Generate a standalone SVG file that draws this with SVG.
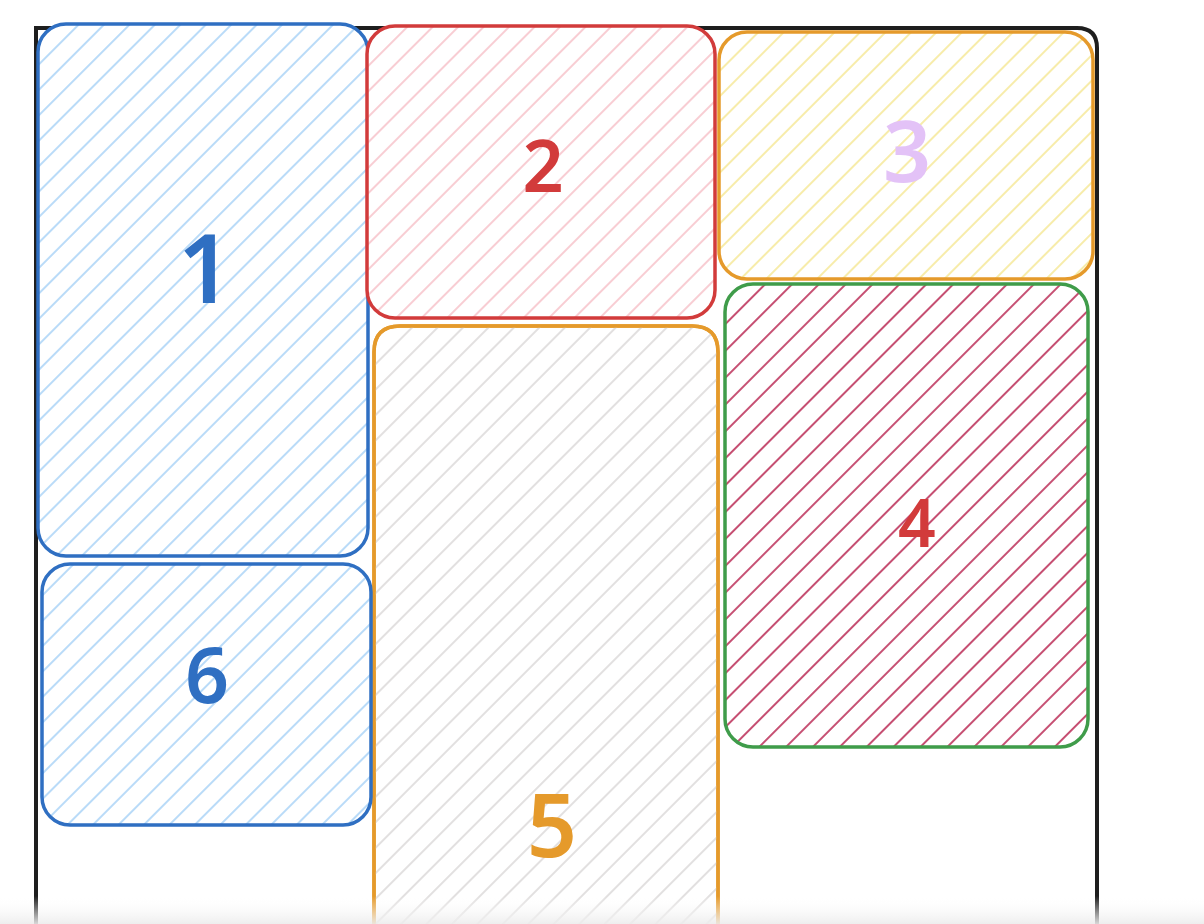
<svg xmlns="http://www.w3.org/2000/svg" width="1204" height="924" viewBox="0 0 1204 924">
<style>
.box{stroke-width:3.5;}
.lbl{font-family:"Noto Sans","Open Sans","Liberation Sans",sans-serif;font-weight:600;text-anchor:middle;}
</style>
<defs>
<pattern id="hBlue" patternUnits="userSpaceOnUse" width="18" height="18" patternTransform="rotate(45)"><line x1="1" y1="0" x2="1" y2="18" stroke="#a8d2f6" stroke-width="1.6"/></pattern>
<pattern id="hPink" patternUnits="userSpaceOnUse" width="18" height="18" patternTransform="rotate(45)"><line x1="1" y1="0" x2="1" y2="18" stroke="#f6bcc4" stroke-width="1.5"/></pattern>
<pattern id="hYellow" patternUnits="userSpaceOnUse" width="18" height="18" patternTransform="rotate(45)"><line x1="1" y1="0" x2="1" y2="18" stroke="#f4e68e" stroke-width="1.5"/></pattern>
<pattern id="hGray" patternUnits="userSpaceOnUse" width="18" height="18" patternTransform="rotate(45)"><line x1="1" y1="0" x2="1" y2="18" stroke="#d8d6d6" stroke-width="1.5"/></pattern>
<pattern id="hCrimson" patternUnits="userSpaceOnUse" width="19" height="19" patternTransform="rotate(45)"><line x1="1" y1="0" x2="1" y2="19" stroke="#b8234f" stroke-width="1.6"/></pattern>
<linearGradient id="fade" x1="0" y1="0" x2="0" y2="1"><stop offset="0" stop-color="#ffffff" stop-opacity="0"/><stop offset="1" stop-color="#ececec" stop-opacity="0.9"/></linearGradient>
</defs>
<rect width="1204" height="924" fill="#ffffff"/>
<g id="frame">
<path d="M36,940 L36,28 L1077,28 Q1097,28 1097,48 L1097,940" fill="none" stroke="#1e1e1e" stroke-width="4"/>
</g>
<g id="node5">
<path d="M374,940 L374,352 Q374,326 400,326 L692,326 Q718,326 718,352 L718,940" fill="#ffffff" class="box" stroke="#e59a2b"/>
<path d="M374,940 L374,352 Q374,326 400,326 L692,326 Q718,326 718,352 L718,940 Z" fill="url(#hGray)" stroke="none"/>
<path d="M374,940 L374,352 Q374,326 400,326 L692,326 Q718,326 718,352 L718,940" fill="none" class="box" stroke="#e59a2b"/>
<text class="lbl" x="552" y="857" font-size="88" fill="#e59a2b">5</text>
</g>
<g id="node1">
<rect x="38" y="24" width="330" height="532" rx="28" fill="#ffffff"/>
<rect x="38" y="24" width="330" height="532" rx="28" fill="url(#hBlue)" class="box" stroke="#2f6fc2"/>
<text class="lbl" x="205" y="303" font-size="95" fill="#2f6fc2">1</text>
</g>
<g id="node6">
<rect x="42" y="564" width="329" height="261" rx="28" fill="#ffffff"/>
<rect x="42" y="564" width="329" height="261" rx="28" fill="url(#hBlue)" class="box" stroke="#2f6fc2"/>
<text class="lbl" x="207" y="703" font-size="77" fill="#2f6fc2">6</text>
</g>
<g id="node2">
<rect x="367" y="26" width="348" height="292" rx="28" fill="#ffffff"/>
<rect x="367" y="26" width="348" height="292" rx="28" fill="url(#hPink)" class="box" stroke="#d23b3b"/>
<text class="lbl" x="543" y="192" font-size="72" fill="#d23b3b">2</text>
</g>
<g id="node3">
<rect x="719" y="32" width="374" height="247" rx="28" fill="#ffffff"/>
<rect x="719" y="32" width="374" height="247" rx="28" fill="url(#hYellow)" class="box" stroke="#e59a2b"/>
<text class="lbl" x="907" y="182" font-size="84" fill="#e3c2f7">3</text>
</g>
<g id="node4">
<rect x="725" y="284" width="363" height="463" rx="28" fill="#ffffff"/>
<rect x="725" y="284" width="363" height="463" rx="28" fill="url(#hCrimson)" class="box" stroke="#3f9c4a"/>
<text class="lbl" x="917" y="547" font-size="66" fill="#d23b3b">4</text>
</g>
<g id="connectors"></g>
<rect x="0" y="896" width="1204" height="28" fill="url(#fade)"/>
</svg>
